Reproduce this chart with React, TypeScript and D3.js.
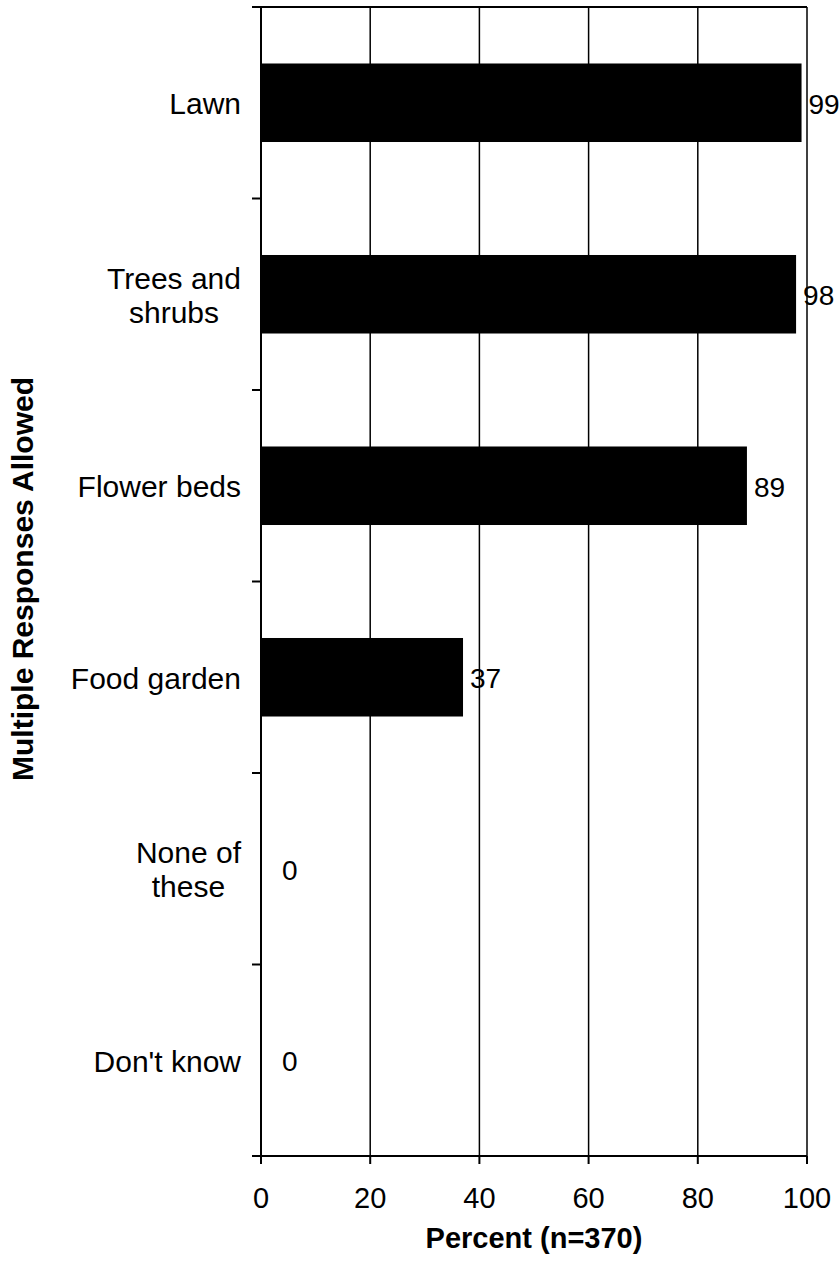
import React, { useEffect, useRef } from "react";
import * as d3 from "d3";

const categories = ["Lawn", "Trees and\nshrubs", "Flower beds", "Food garden", "None of\nthese", "Don't know"];
const percents = [99, 98, 89, 37, 0, 0];
const xTicks = [0, 20, 40, 60, 80, 100];
const xTitle = "Percent (n=370)";
const yTitle = "Multiple Responses Allowed";

const FONT = "'Liberation Sans', Arial, Helvetica, sans-serif";

export default function App() {
  const ref = useRef<SVGSVGElement>(null);

  useEffect(() => {
    const svg = d3.select(ref.current);
    svg.selectAll("*").remove();

    const left = 261;
    const right = 807;
    const top = 7;
    const bottom = 1156;

    const x = d3.scaleLinear().domain([0, 100]).range([left, right]);
    const rows = d3.scaleBand<string>().domain(categories).range([top, bottom]).padding(0);
    const bars = d3
      .scaleBand<string>()
      .domain(categories)
      .range([top, bottom])
      .paddingInner(0.59)
      .paddingOuter(0.295);

    const data = categories.map((c, i) => ({ category: c, value: percents[i] }));

    // vertical gridlines
    svg
      .append("g")
      .selectAll("line")
      .data(xTicks.slice(1))
      .enter()
      .append("line")
      .attr("x1", d => x(d))
      .attr("x2", d => x(d))
      .attr("y1", top)
      .attr("y2", bottom)
      .attr("stroke", "#000")
      .attr("stroke-width", 1.5);

    // top border
    svg
      .append("line")
      .attr("x1", left)
      .attr("x2", right)
      .attr("y1", top)
      .attr("y2", top)
      .attr("stroke", "#000")
      .attr("stroke-width", 2);

    // bars
    svg
      .append("g")
      .selectAll("rect")
      .data(data)
      .enter()
      .append("rect")
      .attr("x", x(0))
      .attr("y", d => bars(d.category)!)
      .attr("width", d => x(d.value) - x(0))
      .attr("height", bars.bandwidth())
      .attr("fill", "#000");

    // value labels
    svg
      .append("g")
      .selectAll("text")
      .data(data)
      .enter()
      .append("text")
      .attr("x", d => Math.max(x(d.value) + 7, x(0) + 21))
      .attr("y", d => bars(d.category)! + bars.bandwidth() / 2 + 1)
      .attr("dy", "0.35em")
      .attr("font-family", FONT)
      .attr("font-size", 28)
      .text(d => d.value);

    // y axis: line + ticks between categories
    const yTickPos = categories.map(c => rows(c)!).concat([bottom]);
    svg
      .append("line")
      .attr("x1", left)
      .attr("x2", left)
      .attr("y1", top)
      .attr("y2", bottom)
      .attr("stroke", "#000")
      .attr("stroke-width", 2);
    svg
      .append("g")
      .selectAll("line")
      .data(yTickPos)
      .enter()
      .append("line")
      .attr("x1", left - 9)
      .attr("x2", left)
      .attr("y1", d => d)
      .attr("y2", d => d)
      .attr("stroke", "#000")
      .attr("stroke-width", 2);

    // category labels, multi-line blocks right aligned, lines centred
    const labelRight = 241;
    const lineGap = 34;
    categories.forEach(c => {
      const lines = c.split("\n");
      const g = svg.append("g");
      const cy = rows(c)! + rows.bandwidth() / 2 + 1;
      const texts = lines.map((ln, i) =>
        g
          .append("text")
          .attr("y", cy + (i - (lines.length - 1) / 2) * lineGap)
          .attr("dy", "0.35em")
          .attr("font-family", FONT)
          .attr("font-size", 30)
          .attr("text-anchor", "middle")
          .text(ln)
      );
      const widths = texts.map(t => (t.node() as SVGTextElement).getComputedTextLength());
      const maxW = d3.max(widths) || 0;
      texts.forEach(t => t.attr("x", labelRight - maxW / 2));
    });

    // x axis
    svg
      .append("line")
      .attr("x1", left - 9)
      .attr("x2", right)
      .attr("y1", bottom)
      .attr("y2", bottom)
      .attr("stroke", "#000")
      .attr("stroke-width", 2);
    const xAxis = svg.append("g");
    xAxis
      .selectAll("line")
      .data(xTicks)
      .enter()
      .append("line")
      .attr("x1", d => x(d))
      .attr("x2", d => x(d))
      .attr("y1", bottom)
      .attr("y2", bottom + 8)
      .attr("stroke", "#000")
      .attr("stroke-width", 2);
    xAxis
      .selectAll("text")
      .data(xTicks)
      .enter()
      .append("text")
      .attr("x", d => x(d))
      .attr("y", 1198)
      .attr("dy", "0.35em")
      .attr("text-anchor", "middle")
      .attr("font-family", FONT)
      .attr("font-size", 29)
      .text(d => d);

    svg
      .append("text")
      .attr("x", (left + right) / 2)
      .attr("y", 1238)
      .attr("dy", "0.35em")
      .attr("text-anchor", "middle")
      .attr("font-family", FONT)
      .attr("font-size", 29)
      .attr("font-weight", "bold")
      .text(xTitle);

    svg
      .append("text")
      .attr("transform", "translate(22, 579) rotate(-90)")
      .attr("dy", "0.35em")
      .attr("text-anchor", "middle")
      .attr("font-family", FONT)
      .attr("font-size", 30)
      .attr("font-weight", "bold")
      .text(yTitle);
  }, []);

  return (
    <svg
      ref={ref}
      width={840}
      height={1268}
      style={{ position: "absolute", left: 0, top: 0, background: "#fff" }}
    />
  );
}
